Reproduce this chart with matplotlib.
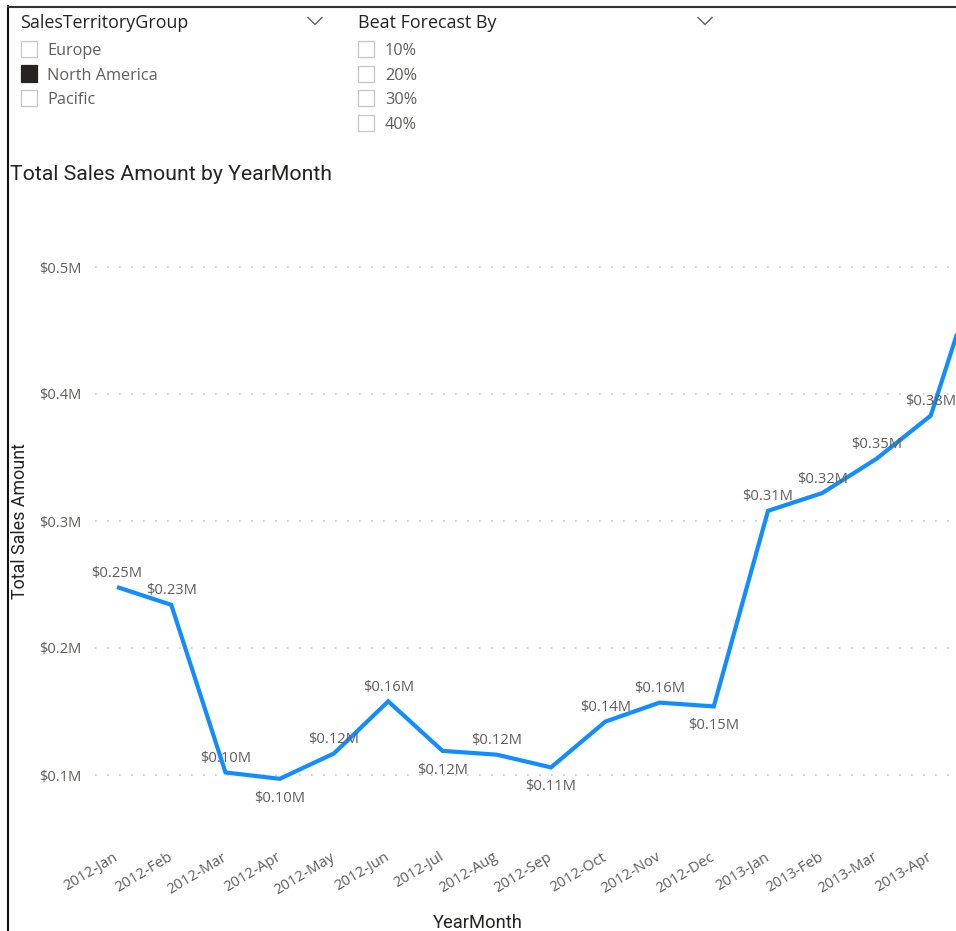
import matplotlib
matplotlib.use("Agg")
import matplotlib.pyplot as plt
from matplotlib.patches import Rectangle
from matplotlib.lines import Line2D

# ---- data -------------------------------------------------------------
months = ["2012-Jan", "2012-Feb", "2012-Mar", "2012-Apr", "2012-May", "2012-Jun",
          "2012-Jul", "2012-Aug", "2012-Sep", "2012-Oct", "2012-Nov", "2012-Dec",
          "2013-Jan", "2013-Feb", "2013-Mar", "2013-Apr", "2013-May"]
sales_m = [0.248, 0.234, 0.102, 0.097, 0.117, 0.158, 0.119, 0.116, 0.106,
           0.142, 0.157, 0.154, 0.308, 0.322, 0.349, 0.383, 0.516]
label_above = [True, True, True, False, True, True, False, True, False,
               True, True, False, True, True, True, True, True]
visible_months = 16  # months whose labels fit in the visual

territories = ["Europe", "North America", "Pacific"]
territory_selected = [False, True, False]
beat_options = ["10%", "20%", "30%", "40%"]
y_ticks = [0.1, 0.2, 0.3, 0.4, 0.5]

# ---- style ------------------------------------------------------------
W, H = 956, 931
DARK = "#252423"
GREY = "#605E5C"
BOX = "#C8C6C4"
BLUE = "#118DFF"
TITLE_FONT = ["Roboto", "DejaVu Sans"]
BODY_FONT = ["Open Sans", "DejaVu Sans"]

fig = plt.figure(figsize=(W / 100, H / 100), dpi=100)
fig.patch.set_facecolor("white")


def fx(x):
    return x / W


def fy(y):
    return 1 - y / H


def ftext(x, y, s, **kw):
    fig.text(fx(x), fy(y), s, **kw)


# ---- report frame -----------------------------------------------------
fig.add_artist(Line2D([fx(8), fx(8)], [fy(6), fy(931)], color="#111111", lw=1.5))
fig.add_artist(Line2D([fx(8), fx(956)], [fy(6.5), fy(6.5)], color="#333333", lw=1.5))


def chevron(xc, yc):
    fig.add_artist(Line2D([fx(xc - 7), fx(xc), fx(xc + 7)],
                          [fy(yc - 3.5), fy(yc + 3.5), fy(yc - 3.5)],
                          color=GREY, lw=1.0))


def checkbox(x, yc, filled):
    fig.add_artist(Rectangle((fx(x), fy(yc + 8)), fx(16), 16 / H,
                             facecolor=DARK if filled else "white",
                             edgecolor=DARK if filled else BOX, lw=0.9))


# slicer: SalesTerritoryGroup
ftext(20, 23, "SalesTerritoryGroup", family=BODY_FONT, fontsize=12.9,
      color=DARK, va="center", ha="left")
chevron(315, 21)
for i, (name, sel) in enumerate(zip(territories, territory_selected)):
    yc = 49 + i * 24.5
    checkbox(21, yc, sel)
    ftext(47, yc + 2, name, family=BODY_FONT, fontsize=11.7, color=GREY,
          va="center", ha="left")

# slicer: Beat Forecast By
ftext(358, 23, "Beat Forecast By", family=BODY_FONT, fontsize=12.9,
      color=DARK, va="center", ha="left")
chevron(705, 21)
for i, name in enumerate(beat_options):
    yc = 49 + i * 24.7
    checkbox(358, yc, False)
    ftext(385, yc + 2, name, family=BODY_FONT, fontsize=11.7, color=GREY,
          va="center", ha="left")

# ---- line chart -------------------------------------------------------
ax_left, ax_right = 95, 1010
ax_top, ax_bottom = 230, 820
ax = fig.add_axes([fx(ax_left), fy(ax_bottom), (ax_right - ax_left) / W,
                   (ax_bottom - ax_top) / H])
ax.set_facecolor("none")

step = 54.25  # px per month
x0 = 117
xlo = (ax_left - x0) / step
xhi = (ax_right - x0) / step
ylo = (902 - ax_bottom) / 1270
yhi = (902 - ax_top) / 1270
ax.set_xlim(xlo, xhi)
ax.set_ylim(ylo, yhi)

xs = list(range(len(months)))
ax.plot(xs, sales_m, color=BLUE, lw=3.0, solid_joinstyle="miter",
        solid_capstyle="butt", zorder=3, clip_on=False)

for i in range(visible_months):
    v = sales_m[i]
    off = 10 if label_above[i] else -14
    ax.annotate(f"${v:.2f}M", (i, v), xytext=(0, off), textcoords="offset points",
                ha="center", va="center", fontsize=10.6, color=GREY,
                family=BODY_FONT, zorder=4, annotation_clip=False)

ax.set_yticks(y_ticks)
ax.set_yticklabels([f"${t:.1f}M" for t in y_ticks], family=BODY_FONT,
                   fontsize=10.5, color=GREY)
ax.yaxis.grid(True, color=BOX, linestyle=(0, (1, 6.2)), lw=1.2)
ax.set_axisbelow(True)
ax.tick_params(axis="y", length=0, pad=9.5)

ax.set_xticks(xs[:visible_months])
ax.set_xticklabels(months[:visible_months], rotation=31, ha="right", va="center",
                   rotation_mode="anchor", family=BODY_FONT, fontsize=10.7,
                   color=GREY)
ax.tick_params(axis="x", length=0, pad=26)

for sp in ax.spines.values():
    sp.set_visible(False)

ftext(10, 174, "Total Sales Amount by YearMonth", family=TITLE_FONT,
      fontsize=15.3, color=DARK, ha="left", va="center")
ftext(20, 521, "Total Sales Amount", family=TITLE_FONT, fontsize=12.9,
      color=DARK, ha="center", va="center", rotation=90)
ftext(478, 923, "YearMonth", family=TITLE_FONT, fontsize=13.2,
      color=DARK, ha="center", va="center")

fig.savefig("out.png", dpi=100, facecolor="white")
